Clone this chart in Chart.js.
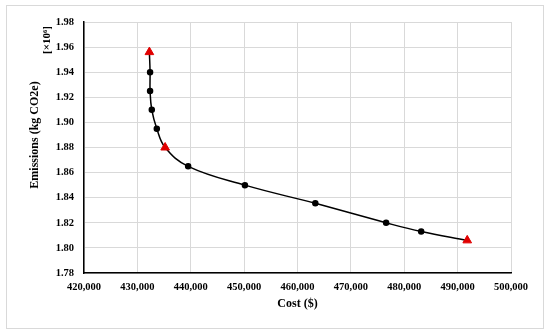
<!DOCTYPE html>
<html>
<head>
<meta charset="utf-8">
<script src="https://cdn.jsdelivr.net/npm/chart.js@4.4.1/dist/chart.umd.min.js"></script>
<style>
  html, body { margin: 0; padding: 0; background: #fff; }
  #wrap { width: 550px; height: 335px; }
</style>
</head>
<body>
<div id="wrap"><canvas id="frontier-chart" width="550" height="335"></canvas></div>
<script>
// pareto frontier
var costValues = [432250, 432380, 432380, 432700, 433640, 435200, 439510, 450150, 463340, 476600, 483170, 491800];
var emissionValues = [1.956, 1.940, 1.925, 1.910, 1.895, 1.880, 1.865, 1.850, 1.8355, 1.820, 1.813, 1.806];
// the three marked solutions (red triangles)
var anchorCost = [432250, 435200, 491800];
var anchorEmission = [1.956, 1.880, 1.806];
var xTicks = [420000, 430000, 440000, 450000, 460000, 470000, 480000, 490000, 500000];
var yTicks = [1.78, 1.80, 1.82, 1.84, 1.86, 1.88, 1.90, 1.92, 1.94, 1.96, 1.98];

var serif = '"Liberation Serif", "Times New Roman", serif';

var linePoints = costValues.map(function (c, i) { return { x: c, y: emissionValues[i] }; });
var anchorPoints = anchorCost.map(function (c, i) { return { x: c, y: anchorEmission[i] }; });

function isAnchor(i) {
  return anchorCost.indexOf(costValues[i]) !== -1;
}

var extraText = {
  id: 'extraText',
  beforeDraw: function (chart) {
    var ctx = chart.ctx;
    ctx.save();
    ctx.strokeStyle = '#d9d9d9';
    ctx.lineWidth = 1;
    ctx.strokeRect(6.5, 5.5, 537, 323);
    ctx.restore();
  },
  afterDraw: function (chart) {
    var ctx = chart.ctx;
    var area = chart.chartArea;
    ctx.save();
    ctx.fillStyle = '#000';
    ctx.textAlign = 'center';
    ctx.textBaseline = 'middle';
    ctx.font = 'bold 12px ' + serif;
    ctx.fillText('Cost ($)', (area.left + area.right) / 2, 304);

    ctx.translate(35, 135);
    ctx.rotate(-Math.PI / 2);
    ctx.fillText('Emissions (kg CO2e)', 0, 0);
    ctx.restore();

    ctx.save();
    ctx.fillStyle = '#000';
    ctx.textAlign = 'center';
    ctx.textBaseline = 'middle';
    ctx.font = 'bold 11px ' + serif;
    ctx.translate(47, 40);
    ctx.rotate(-Math.PI / 2);
    ctx.fillText('[\u00d710\u2076]', 0, 0);
    ctx.restore();
  }
};

var chartContext = document.getElementById('frontier-chart');
var frontierChart = new Chart(chartContext, {
  type: 'scatter',
  data: {
    datasets: [
      {
        data: anchorPoints,
        pointStyle: 'triangle',
        pointRadius: 5,
        pointBackgroundColor: '#e00000',
        pointBorderColor: '#e00000',
        showLine: false
      },
      {
        data: linePoints,
        showLine: true,
        tension: 0.4,
        borderColor: '#000',
        borderWidth: 1.5,
        pointRadius: function (c) { return isAnchor(c.dataIndex) ? 0 : 2.5; },
        pointBackgroundColor: '#000',
        pointBorderColor: '#000'
      }
    ]
  },
  options: {
    responsive: false,
    animation: false,
    layout: { padding: { left: 0, top: 22, right: 39, bottom: 0 } },
    plugins: { legend: { display: false }, tooltip: { enabled: false } },
    scales: {
      x: {
        type: 'linear',
        min: xTicks[0],
        max: xTicks[xTicks.length - 1],
        afterFit: function (scale) { scale.height = 62; },
        afterBuildTicks: function (scale) { scale.ticks = xTicks.map(function (v) { return { value: v }; }); },
        grid: { color: '#d9d9d9', lineWidth: 1, drawTicks: false },
        border: { color: '#000', width: 1.5 },
        ticks: {
          padding: 8,
          color: '#000',
          font: { family: serif, size: 10.5, weight: 'bold' },
          callback: function (v) { return Number(v).toLocaleString('en-US'); }
        }
      },
      y: {
        type: 'linear',
        min: yTicks[0],
        max: yTicks[yTicks.length - 1],
        afterFit: function (scale) { scale.width = 84; },
        afterBuildTicks: function (scale) { scale.ticks = yTicks.map(function (v) { return { value: v }; }); },
        grid: { color: '#d9d9d9', lineWidth: 1, drawTicks: false },
        border: { color: '#000', width: 1.5 },
        ticks: {
          padding: 10,
          color: '#000',
          font: { family: serif, size: 10.5, weight: 'bold' },
          callback: function (v) { return Number(v).toFixed(2); }
        }
      }
    }
  },
  plugins: [extraText]
});
</script>
</body>
</html>
